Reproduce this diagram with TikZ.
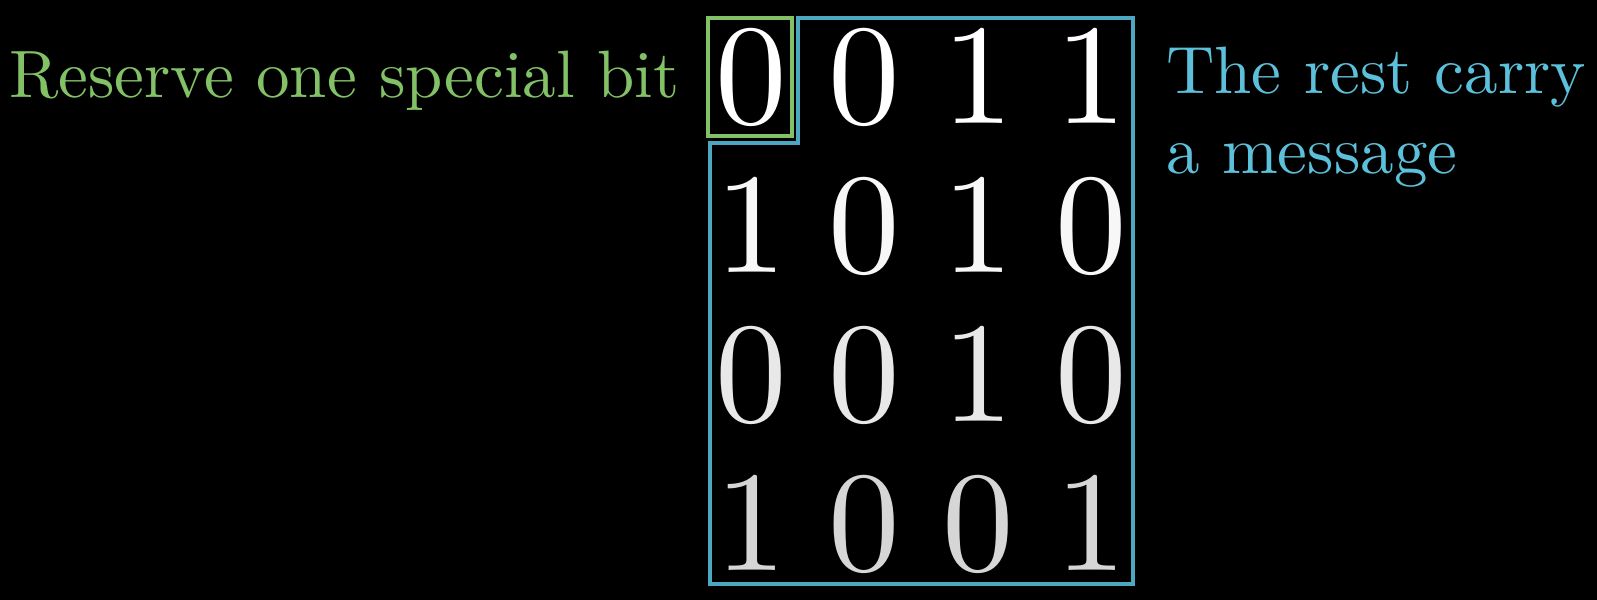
\documentclass[tikz,border=0pt]{standalone}
\usepackage{xcolor}

\definecolor{bitgreen}{HTML}{83C167}
\definecolor{bitblue}{HTML}{5CC0DA}
\definecolor{boxblue}{HTML}{4CA8C0}

\tikzset{
  bit/.style={anchor=base, inner sep=0pt, font=\fontsize{10}{12}\selectfont, scale=7.15, transform shape},
  caption/.style={anchor=base west, inner sep=0pt, align=left,
    font=\fontsize{10}{11.8}\selectfont, scale=3.35, transform shape}
}

\begin{document}
\begin{tikzpicture}[x=0.5pt, y=-0.5pt]
    \fill [black] (0, 0) rectangle (1597, 600);
    \useasboundingbox (0, 0) rectangle (1597, 600);

    % the grid of bits, one row at a time
    \foreach \r/\tone/\bits in {1/100/{0,0,1,1}, 2/97/{1,0,1,0}, 3/91/{0,0,1,0}, 4/84/{1,0,0,1}}
        \foreach \b [count=\c] in \bits
            \node [bit, text=white!\tone!black] (b-\r-\c) at (751 + 113.5*\c - 113.5, 123 + 149*\r - 149) {\b};

    % special bit and the rest
    \draw [bitgreen, line width=1.6pt] (708, 18) rectangle (792, 136);
    \draw [boxblue, line width=1.6pt] (798, 18) -- (1133, 18) -- (1133, 584) -- (710, 584) -- (710, 143) -- (798, 143) -- cycle;

    \node [caption, text=bitgreen] (special) at (8, 97) {Reserve one special bit};
    \node [caption, text=bitblue] (rest) at (1165, 173) {The rest carry\\a message};
\end{tikzpicture}
\end{document}
